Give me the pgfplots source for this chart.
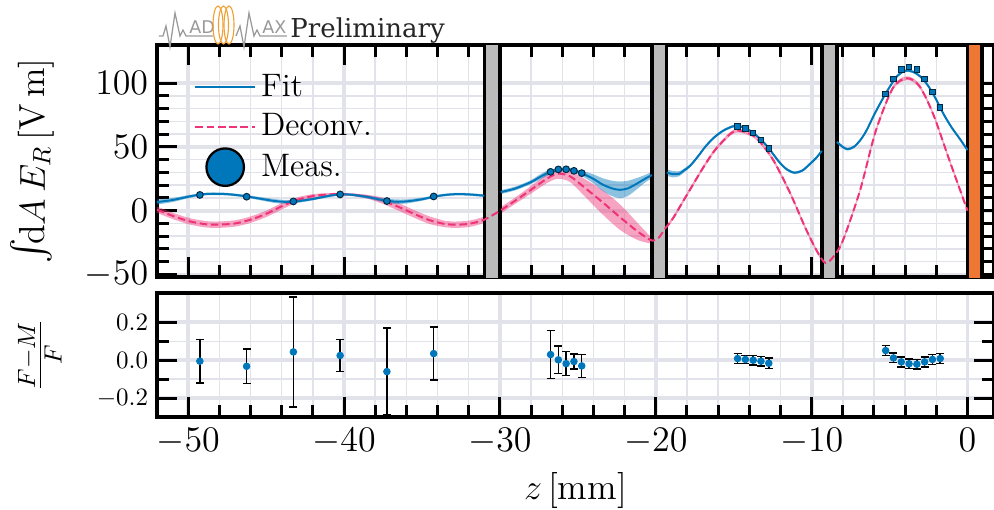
\documentclass[border=0pt]{standalone}
\usepackage{fontspec}
\usepackage{pgfplots}
\pgfplotsset{compat=1.18}
\usepackage{pgfplotstable}
\usepgfplotslibrary{fillbetween}
\newfontfamily\prelimfont{DejaVu Serif}
\newfontfamily\logofont{DejaVu Sans}

\definecolor{tolblue}{RGB}{0,119,187}
\definecolor{tolmagenta}{RGB}{238,51,119}
\definecolor{tolorange}{RGB}{238,119,51}
\definecolor{bandgray}{RGB}{187,187,187}
\definecolor{gridc}{RGB}{226,226,234}
\definecolor{coil}{RGB}{240,160,50}

% fit, segment by segment (z, value, half width of band)
\pgfplotstableread{
z v e
-52.0 6.8 2.0
-51.0 8.4 1.6
-50.0 11.0 1.2
-49.2 12.7 1.0
-48.5 13.3 1.0
-47.5 13.0 1.0
-46.5 11.7 1.0
-45.5 9.7 1.2
-44.5 7.7 1.5
-43.8 7.0 1.5
-43.0 7.4 1.3
-42.0 9.2 1.0
-41.0 11.6 1.0
-40.2 12.8 0.8
-39.5 12.5 1.0
-38.5 10.8 1.2
-37.5 8.3 1.5
-36.7 7.1 1.8
-36.0 7.3 1.6
-35.0 9.0 1.2
-34.2 11.1 1.0
-33.5 12.4 1.0
-32.8 13.0 1.0
-32.0 12.8 1.0
-31.0 11.8 1.0
}\fitA
\pgfplotstableread{
z v e
-29.95 14.6 1.5
-29.0 17.5 1.5
-28.0 22.5 1.5
-27.5 26.0 2.0
-27.0 29.2 2.0
-26.5 31.5 1.5
-26.0 32.5 1.2
-25.5 32.3 1.2
-25.0 30.5 1.5
-24.5 28.0 2.5
-24.0 25.0 3.5
-23.4 20.5 5.0
-22.8 17.5 6.0
-22.3 16.4 6.5
-21.8 17.5 6.0
-21.25 21.0 4.5
-20.7 25.0 3.0
-20.25 28.0 2.5
}\fitB
\pgfplotstableread{
z v e
-19.3 30.0 2.5
-18.9 28.7 2.5
-18.5 29.0 2.0
-18.2 31.5 1.5
-17.8 35.2 1.2
-17.3 42.5 1.0
-16.8 50.5 1.0
-16.3 57.0 1.0
-15.7 62.6 1.0
-15.1 66.0 1.0
-14.75 66.5 1.0
-14.25 64.8 1.0
-13.75 61.0 1.0
-13.25 55.8 1.0
-12.75 49.0 1.0
-12.1 38.5 1.0
-11.6 32.5 1.0
-11.1 29.8 1.0
-10.6 31.5 1.0
-10.1 36.8 1.0
-9.7 41.5 1.0
-9.35 47.0 1.0
}\fitC
\pgfplotstableread{
z v e
-8.38 54.0 1.0
-8.0 50.0 1.0
-7.7 48.3 1.0
-7.3 50.0 1.0
-6.9 55.0 1.0
-6.5 62.5 1.0
-6.0 75.0 1.0
-5.5 86.5 1.0
-5.0 97.0 1.0
-4.5 105.8 1.0
-4.0 109.8 1.0
-3.5 109.0 1.0
-3.0 105.0 1.0
-2.5 97.5 1.0
-2.0 87.0 1.0
-1.5 75.0 1.0
-1.0 65.0 1.0
-0.5 56.5 1.0
0.0 47.5 1.0
}\fitD
% deconvolved field
\pgfplotstableread{
z v e
-52.0 0.8 2.5
-51.0 -4.0 2.5
-50.0 -8.0 2.5
-49.0 -10.4 2.5
-48.2 -11.0 2.5
-47.0 -10.0 2.5
-46.0 -7.0 2.5
-45.0 -2.5 2.5
-44.0 3.5 2.5
-43.0 8.5 2.0
-42.0 11.5 1.5
-41.0 12.8 1.0
-40.3 13.0 1.0
-39.5 12.6 1.0
-38.5 11.0 1.5
-37.5 7.8 2.5
-36.5 3.0 3.0
-35.5 -2.5 3.0
-34.5 -7.5 3.0
-33.5 -10.5 2.5
-33.0 -11.0 2.5
-32.0 -10.3 2.5
-31.0 -7.0 2.5
-30.0 0.0 2.5
-29.0 8.0 2.5
-28.0 16.5 3.0
-27.0 25.0 3.5
-26.3 29.0 4.0
-25.5 27.0 4.5
-24.5 17.5 7.0
-23.4 6.5 9.5
-22.3 -5.0 10.0
-21.25 -15.5 7.0
-20.6 -21.0 4.0
-20.2 -23.5 2.0
-19.8 -21.0 1.5
-19.4 -14.0 1.5
-18.9 -6.0 1.5
-18.0 12.5 1.5
-17.0 33.0 1.5
-16.3 46.0 1.5
-15.7 54.5 1.5
-15.2 60.5 1.5
-14.8 62.8 1.5
-14.2 61.5 1.5
-13.5 56.5 1.5
-12.5 40.5 1.5
-11.4 14.4 1.5
-10.4 -13.5 1.5
-9.6 -33.0 1.5
-9.1 -41.0 1.5
-8.6 -36.0 1.5
-8.0 -23.5 1.5
-6.9 15.7 1.5
-5.9 62.0 1.5
-4.8 96.0 1.5
-3.9 103.9 1.5
-3.1 98.0 1.5
-2.2 75.7 1.5
-1.15 39.2 1.5
0.0 0.0 1.5
}\deconv
% measurements
\pgfplotstableread{
z v
-49.25 12.4
-46.25 11.0
-43.25 7.3
-40.25 12.8
-37.25 7.6
-34.25 11.2
-26.75 30.5
-26.25 32.4
-25.75 32.5
-25.25 31.3
-24.75 29.5
}\measA
\pgfplotstableread{
z v
-14.75 66.1
-14.25 64.5
-13.75 60.8
-13.25 55.6
-12.75 48.9
-5.25 91.4
-4.75 103.4
-4.25 110.7
-3.75 112.8
-3.25 110.7
-2.75 103.4
-2.25 93.2
-1.75 81.0
}\measB
% residuals (F-M)/F
\pgfplotstableread{
z r e
-49.25 -0.005 0.115
-46.25 -0.032 0.090
-43.25 0.044 0.290
-40.25 0.025 0.085
-37.25 -0.060 0.230
-34.25 0.035 0.140
-26.75 0.030 0.126
-26.25 0.002 0.073
-25.75 -0.018 0.064
-25.25 -0.007 0.039
-24.75 -0.030 0.060
-14.75 0.009 0.026
-14.25 0.004 0.022
-13.75 0.000 0.025
-13.25 -0.005 0.026
-12.75 -0.016 0.029
-5.25 0.051 0.026
-4.75 0.012 0.025
-4.25 -0.009 0.026
-3.75 -0.019 0.025
-3.25 -0.021 0.025
-2.75 -0.009 0.026
-2.25 0.004 0.026
-1.75 0.009 0.027
}\resid

\pgfplotsset{
  panel/.style={
    scale only axis, width=334.8pt,
    xmin=-52, xmax=1.7,
    xtick={-50,-40,...,0}, minor x tick num=4,
    tick align=inside,
    major tick length=8pt, minor tick length=4.8pt,
    every tick/.style={black, line width=1.2pt},
    axis line style={line width=1.4pt},
    grid=both,
    major grid style={gridc, line width=1.5pt},
    minor grid style={gridc, line width=0.6pt},
    tick label style={font=\fontsize{14}{16}\selectfont},
    label style={font=\fontsize{14.5}{17}\selectfont},
  },
  band/.style={forget plot, draw=none, smooth, name path=#1},
}

\begin{document}
\begin{tikzpicture}
\begin{axis}[panel, name=top, height=92.8pt,
  ymin=-52, ymax=130,
  ytick={-50,0,50,100}, minor y tick num=4,
  xticklabels={},
  ylabel={$\scalebox{1.5}{$\int$}\!\mathrm{d}A\, E_R\, [\mathrm{V\,m}]$},
  ylabel style={at={(axis description cs:-0.149,0.5)}, anchor=center, inner sep=0pt},
  legend style={at={(axis description cs:0.035,0.92)}, anchor=north west,
    draw=none, fill=none, font=\fontsize{13}{15}\selectfont,
    row sep=1.5pt, nodes={inner sep=2pt}},
  legend cell align=left,
  legend image code/.code={\draw[mark repeat=2,mark phase=2,#1] plot coordinates {(0cm,0cm) (0.42cm,0cm) (0.84cm,0cm)};},
]
\addlegendimage{tolblue, line width=0.8pt}
\addlegendentry{Fit}
\addlegendimage{tolmagenta, line width=0.8pt, dash pattern=on 3pt off 1.5pt}
\addlegendentry{Deconv.}
\addlegendimage{only marks, mark=*, mark size=7.5pt, mark options={fill=tolblue, draw=black, line width=0.9pt}}
\addlegendentry{Meas.}

% disks and mirror
\addplot[forget plot, fill=bandgray, draw=black, line width=1.4pt] coordinates {(-31,-70) (-30,-70) (-30,150) (-31,150)} -- cycle;
\addplot[forget plot, fill=bandgray, draw=black, line width=1.4pt] coordinates {(-20.25,-70) (-19.3,-70) (-19.3,150) (-20.25,150)} -- cycle;
\addplot[forget plot, fill=bandgray, draw=black, line width=1.4pt] coordinates {(-9.35,-70) (-8.38,-70) (-8.38,150) (-9.35,150)} -- cycle;
\addplot[forget plot, fill=tolorange, draw=black, line width=1.4pt] coordinates {(0,-70) (0.93,-70) (0.93,150) (0,150)} -- cycle;

% deconvolution band and line
\addplot[band=du] table[x=z, y expr=\thisrow{v}+\thisrow{e}] {\deconv};
\addplot[band=dl] table[x=z, y expr=\thisrow{v}-\thisrow{e}] {\deconv};
\addplot[forget plot, fill=tolmagenta, fill opacity=0.45] fill between[of=du and dl];
\addplot[forget plot, tolmagenta, line width=0.8pt, smooth, dash pattern=on 3pt off 1.5pt] table[x=z, y=v] {\deconv};

% fit bands and lines
\addplot[band=au] table[x=z, y expr=\thisrow{v}+\thisrow{e}] {\fitA};
\addplot[band=al] table[x=z, y expr=\thisrow{v}-\thisrow{e}] {\fitA};
\addplot[forget plot, fill=tolblue, fill opacity=0.45] fill between[of=au and al];
\addplot[band=bu] table[x=z, y expr=\thisrow{v}+\thisrow{e}] {\fitB};
\addplot[band=bl] table[x=z, y expr=\thisrow{v}-\thisrow{e}] {\fitB};
\addplot[forget plot, fill=tolblue, fill opacity=0.45] fill between[of=bu and bl];
\addplot[band=cu] table[x=z, y expr=\thisrow{v}+\thisrow{e}] {\fitC};
\addplot[band=cl] table[x=z, y expr=\thisrow{v}-\thisrow{e}] {\fitC};
\addplot[forget plot, fill=tolblue, fill opacity=0.45] fill between[of=cu and cl];
\addplot[band=eu] table[x=z, y expr=\thisrow{v}+\thisrow{e}] {\fitD};
\addplot[band=el] table[x=z, y expr=\thisrow{v}-\thisrow{e}] {\fitD};
\addplot[forget plot, fill=tolblue, fill opacity=0.45] fill between[of=eu and el];
\addplot[forget plot, tolblue, line width=0.8pt, smooth] table[x=z, y=v] {\fitA};
\addplot[forget plot, tolblue, line width=0.8pt, smooth] table[x=z, y=v] {\fitB};
\addplot[forget plot, tolblue, line width=0.8pt, smooth] table[x=z, y=v] {\fitC};
\addplot[forget plot, tolblue, line width=0.8pt, smooth] table[x=z, y=v] {\fitD};

% measurements
\addplot[forget plot, only marks, mark=*, mark size=1.35pt,
  mark options={fill=tolblue, draw=black!65!tolblue, line width=0.4pt}] table[x=z, y=v] {\measA};
\addplot[forget plot, only marks, mark=square*, mark size=1.1pt,
  mark options={fill=tolblue, draw=black!65!tolblue, line width=0.4pt}] table[x=z, y=v] {\measB};
\end{axis}

\begin{axis}[panel, at={(top.south west)}, anchor=north west, yshift=-6.4pt,
  height=49.6pt,
  ymin=-0.3, ymax=0.355,
  ytick={-0.2,0,0.2}, minor y tick num=1,
  xtick pos=bottom,
  xticklabel style={yshift=-1pt},
  yticklabel style={font=\fontsize{10}{12}\selectfont,
    /pgf/number format/.cd, fixed, fixed zerofill, precision=1},
  xlabel={$z\,[\mathrm{mm}]$},
  xlabel style={at={(axis description cs:0.5,-0.589)}, anchor=center},
  ylabel={$\frac{F-M}{F}$},
  ylabel style={at={(axis description cs:-0.14,0.5)}, anchor=center, inner sep=0pt},
]
\addplot[only marks, mark=*, mark size=1.3pt, mark options={fill=tolblue, draw=tolblue},
  error bars/.cd, y dir=both, y explicit,
  error bar style={black, line width=0.6pt},
  error mark options={rotate=90, mark size=1.6pt, black, line width=0.6pt}]
  table[x=z, y=r, y error=e] {\resid};
\end{axis}

% MADMAX logo and label (units: reference pixels from the top left corner of the upper panel)
\begin{scope}[shift={(top.north west)}, x=0.4pt, y=-0.4pt]
  \draw[gray!80, line width=0.5pt] (2,-9) -- (6,-9) -- (9,-19) -- (13,2) -- (18,-32) -- (23,-9) -- (26,-15) -- (29,-9) -- (56,-9);
  \node[anchor=base west, inner sep=0, text=gray!80, font=\logofont\fontsize{7}{8}\selectfont] at (32,-12) {AD};
  \foreach \cx in {61,66.5,72}
    \draw[coil, line width=0.45pt] (\cx,-20) ellipse [x radius=2pt, y radius=7.6pt];
  \draw[gray!80, line width=0.5pt] (79,-9) -- (83,-19) -- (87,2) -- (92,-32) -- (97,-9) -- (100,-15) -- (103,-9) -- (130,-9);
  \node[anchor=base west, inner sep=0, text=gray!80, font=\logofont\fontsize{7}{8}\selectfont] at (105,-12) {AX};
  \node[anchor=base west, inner sep=0, text=black!85, font=\prelimfont\fontsize{10.4}{12}\selectfont] at (133,-8) {Preliminary};
  \pgfresetboundingbox
  \useasboundingbox (-157,-45) rectangle (837,464);
\end{scope}
\end{tikzpicture}
\end{document}
